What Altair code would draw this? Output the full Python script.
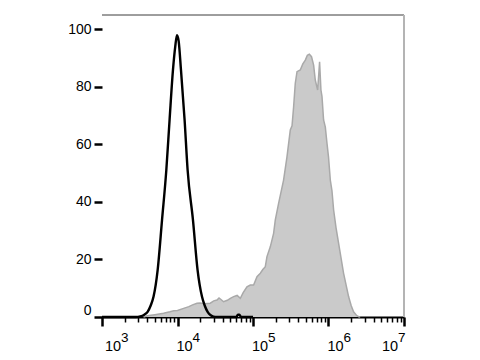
import altair as alt
import pandas as pd

# ---- data (x given as log10 of fluorescence) ----
ctrl_log = [3.0, 3.45, 3.507, 3.56, 3.604, 3.645, 3.683, 3.737, 3.795, 3.852, 3.895,
            3.94, 3.97, 3.993, 4.015, 4.046, 4.094, 4.134, 4.205, 4.266, 4.324, 4.36,
            4.399, 4.44, 4.478, 4.52, 4.78, 4.8, 4.82, 4.84, 5.0]
ctrl_y = [0, 0, 0.2, 0.8, 1.8, 4, 7.1, 16.3, 33.7, 51.1, 68.5,
          85.9, 94, 98, 96, 85.9, 68.5, 51.1, 33.7, 16.3, 7.1, 4,
          1.8, 0.6, 0.1, 0, 0, 0.8, 0.8, 0, 0]

stain_log = [3.55, 3.6, 3.7, 3.816, 3.9, 3.95, 4.0, 4.081, 4.15, 4.2, 4.258, 4.3, 4.35,
             4.434, 4.48, 4.523, 4.55, 4.58, 4.61, 4.66, 4.7, 4.743, 4.79, 4.832, 4.87,
             4.92, 4.964, 5.008, 5.053, 5.097, 5.13, 5.163, 5.185, 5.229, 5.252, 5.273,
             5.295, 5.339, 5.405, 5.45, 5.494, 5.517, 5.538, 5.56, 5.583, 5.626, 5.66,
             5.693, 5.72, 5.746, 5.775, 5.803, 5.825, 5.856, 5.87, 5.882, 5.9, 5.914,
             5.935, 5.958, 5.98, 6.0, 6.024, 6.046, 6.068, 6.1, 6.134, 6.2, 6.266, 6.3,
             6.332, 6.37, 6.399, 6.42]
stain_y = [0, 0.4, 0.8, 1.3, 1.8, 2.2, 2.3, 3.0, 3.6, 4.2, 4.8, 4.9, 4.6,
           4.8, 5.6, 5.9, 6.6, 6.0, 5.3, 5.8, 6.5, 7.1, 7.5, 6.5, 8.5,
           10.5, 11.1, 11.1, 14.0, 15.2, 16.5, 17.5, 21, 24.4, 26.8, 29.1,
           33.7, 39.5, 47.6, 55.7, 65, 66.5, 73.1, 81.2, 85.3, 85.9, 88,
           89.3, 91, 91.4, 90.5, 87.6, 82.4, 78.9, 84, 88.7, 78.9, 76.6,
           68.5, 66, 60.4, 55.7, 47.6, 43.9, 37.2, 31, 25.6, 15.2, 7.1, 4,
           1.8, 0.6, 0.1, 0]

major_exp = [3, 4, 5, 6, 7]
y_ticks = list(range(0, 101, 5))

ctrl = pd.DataFrame({"x": [10 ** v for v in ctrl_log], "y": ctrl_y})
stain = pd.DataFrame({"x": [10 ** v for v in stain_log], "y": stain_y})
x_ticks = []
for e in major_exp:
    x_ticks.append(10 ** e)
    if e < 7:
        x_ticks += [m * 10 ** e for m in range(2, 10)]
labels = pd.DataFrame({"e": major_exp, "x": [10 ** e for e in major_exp],
                       "base": ["10"] * 5, "exp": [str(e) for e in major_exp]})

W, H = 302, 302
FONT = "Liberation Sans"

xscale = alt.Scale(type="log", domain=[1000, 1e7], nice=False)
yscale = alt.Scale(domain=[0, 105], nice=False)

minor_x = "abs(log(datum.value)/LN10 - round(log(datum.value)/LN10)) > 0.01"
xaxis = alt.Axis(values=x_ticks, labels=False, title=None, grid=False,
                 domain=True, domainColor="black", domainWidth=2,
                 tickColor="black", tickSize=9,
                 tickWidth={"condition": {"test": minor_x, "value": 1.5}, "value": 2.5},
                 tickDash={"condition": {"test": minor_x, "value": [5, 30]}, "value": [30, 0]})
minor_y = "datum.value % 20 != 0"
yaxis = alt.Axis(values=y_ticks, title=None, grid=False, domain=False,
                 tickColor="black", tickSize=8,
                 tickWidth={"condition": {"test": minor_y, "value": 1.5}, "value": 2.5},
                 tickDash={"condition": {"test": minor_y, "value": [4, 30]}, "value": [30, 0]},
                 labelExpr="datum.value % 20 == 0 ? datum.label : ''",
                 labelFont=FONT, labelFontSize=14, labelColor="black", labelPadding=3,
                 labelBaseline={"condition": {"test": "datum.value == 0", "value": "bottom"},
                                "value": "middle"})

area = alt.Chart(stain).mark_area(
    fill="#cacaca", fillOpacity=1, interpolate="linear"
).encode(
    x=alt.X("x:Q", scale=xscale, axis=xaxis),
    y=alt.Y("y:Q", scale=yscale, axis=yaxis),
)
outline = alt.Chart(stain).mark_line(color="#a9a9a9", strokeWidth=1.5).encode(
    x=alt.X("x:Q", scale=xscale),
    y=alt.Y("y:Q", scale=yscale),
)

line = alt.Chart(ctrl).mark_line(color="black", strokeWidth=2.4, interpolate="monotone").encode(
    x=alt.X("x:Q", scale=xscale),
    y=alt.Y("y:Q", scale=yscale),
)

top_border = alt.Chart(labels).mark_rule(color="#9a9a9a", strokeWidth=1).encode(
    x=alt.value(0), x2=alt.value(W), y=alt.value(0))
right_border = alt.Chart(labels).mark_rule(color="#b4b4b4", strokeWidth=1.5).encode(
    x=alt.value(W), y=alt.value(0), y2=alt.value(H))


def lbl(filt, dx_base):
    base = alt.Chart(labels).transform_filter(filt)
    t1 = base.mark_text(font=FONT, fontSize=14.5, color="black", align="left",
                        baseline="alphabetic", dx=dx_base).encode(
        x=alt.X("x:Q", scale=xscale), y=alt.value(H + 34), text="base:N")
    t2 = base.mark_text(font=FONT, fontSize=13.5, color="black", align="left",
                        baseline="alphabetic", dx=dx_base + 16).encode(
        x=alt.X("x:Q", scale=xscale), y=alt.value(H + 25), text="exp:N")
    return [t1, t2]


texts = lbl("datum.e == 3", 3) + lbl("datum.e > 3 && datum.e < 7", -1) + lbl("datum.e == 7", -22)

chart = alt.layer(area, outline, line, top_border, right_border, *texts).properties(
    width=W, height=H,
    autosize=alt.AutoSizeParams(type="none"),
    padding={"left": 102, "top": 15, "right": 76, "bottom": 43},
    background="white",
).configure_view(stroke=None)

chart.save("out.html", embed_options={"renderer": "svg", "actions": False})
